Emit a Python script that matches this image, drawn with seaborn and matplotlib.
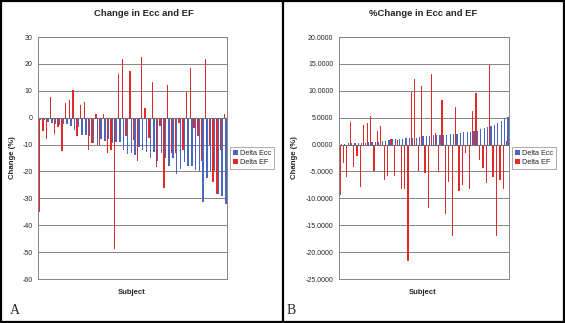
import numpy as np
import pandas as pd
import matplotlib
matplotlib.use("Agg")
import matplotlib.pyplot as plt
import matplotlib.patches as mpatches
from matplotlib.ticker import FormatStrFormatter
import seaborn as sns

# ---------------- data ----------------
subjects = [f"S{i+1}" for i in range(50)]

a_delta_ecc = [-0.8, -1.0, -1.5, -2.0, -2.2, -2.8, -2.5, -2.5, -3.0, -4.5,
               -3.5, -6.5, -6.5, -7.0, -9.5, -10.0, -8.0, -8.5, -8.0, -9.5,
               -9.0, -9.0, -12.0, -13.5, -13.0, -14.0, -11.0, -12.0, -12.8, -15.0,
               -12.8, -16.0, -13.0, -15.0, -18.0, -15.0, -21.0, -19.0, -16.5, -18.0,
               -18.0, -19.5, -20.0, -31.5, -22.5, -20.0, -20.0, -28.5, -29.0, -32.0]
a_delta_ef = [-35.0, -5.0, -8.0, 7.5, -6.0, -3.3, -12.3, 5.5, 6.5, 10.2,
              -7.0, 4.8, 6.0, -12.0, -9.5, 1.5, -10.0, 1.5, -13.2, -12.0,
              -49.0, 16.3, 21.7, -7.0, 17.5, -8.3, -16.2, 22.7, 3.7, -7.5,
              13.3, -18.5, -3.0, -26.3, 12.3, -13.0, -13.0, -2.0, -12.0, 9.6,
              18.6, -4.0, -7.0, -16.0, 22.0, -10.0, -24.0, -28.5, -12.0, 1.2]

b_delta_ecc = [0.10, 0.15, 0.20, 0.22, 0.25, 0.28, 0.30, 0.32, 0.40, 0.45,
               0.50, 0.55, 0.65, 0.70, 0.80, 0.95, 1.00, 1.05, 1.10, 1.15,
               1.20, 1.25, 1.30, 1.40, 1.50, 1.60, 1.65, 1.70, 1.72, 1.75,
               1.80, 1.85, 1.90, 1.95, 2.05, 2.15, 2.25, 2.30, 2.40, 2.55,
               2.60, 2.95, 3.05, 3.30, 3.50, 3.65, 4.05, 4.45, 4.85, 5.10]
b_delta_ef = [-9.3, -3.4, -6.0, 4.2, -4.1, -2.2, -7.8, 3.7, 4.1, 5.4,
              -5.0, 2.6, 3.4, -6.6, -5.8, 1.0, -5.8, 0.8, -8.2, -8.2,
              -21.7, 9.7, 12.1, -4.9, 10.8, -5.2, -11.8, 13.2, 2.1, -5.1,
              8.2, -13.0, -6.9, -17.0, 6.9, -8.6, -7.6, -1.6, -8.2, 6.3,
              9.5, -2.9, -4.4, -7.2, 14.8, -6.1, -17.0, -6.6, -8.2, 0.7]

series_names = ["Delta Ecc", "Delta EF"]
titles = ["Change in Ecc and EF", "%Change in Ecc and EF"]
panel_letters = ["A", "B"]
a_yticks = [30, 20, 10, 0, -10, -20, -30, -40, -50, -60]
b_yticks = [20, 15, 10, 5, 0, -5, -10, -15, -20, -25]

BLUE = "#4a66bd"
RED = "#de2c2c"

def long_df(ecc, ef):
    return pd.DataFrame({
        "Subject": subjects * 2,
        "value": list(ecc) + list(ef),
        "series": ["Delta Ecc"] * len(ecc) + ["Delta EF"] * len(ef),
    })

df_a = long_df(a_delta_ecc, a_delta_ef)
df_b = long_df(b_delta_ecc, b_delta_ef)

sns.set_theme(style="white")
plt.rcParams["font.family"] = ["Liberation Sans", "DejaVu Sans"]
plt.rcParams["axes.unicode_minus"] = False

fig = plt.figure(figsize=(5.65, 3.23), dpi=100)
W, H = 565, 323

def px_axes(x0, y0, x1, y1):
    return fig.add_axes([x0 / W, 1 - y1 / H, (x1 - x0) / W, (y1 - y0) / H])

ax_a = px_axes(38, 37, 227, 279)
ax_b = px_axes(339, 37, 509, 279)

configs = [
    (ax_a, df_a, a_yticks, False, 230, 144, 132, 13, 10),
    (ax_b, df_b, b_yticks, True, 512, 423, 423, 295, 287),
]

for i, (ax, df, yt, fmt4, leg_x, title_x, subj_x, ylab_x, let_x) in enumerate(configs):
    sns.barplot(data=df, x="Subject", y="value", hue="series",
                hue_order=["Delta EF", "Delta Ecc"],
                palette={"Delta Ecc": BLUE, "Delta EF": RED},
                width=0.75, saturation=1, errorbar=None, linewidth=0,
                legend=False, ax=ax)
    ax.set_ylim(min(yt), max(yt))
    ax.set_yticks(yt)
    if fmt4:
        ax.yaxis.set_major_formatter(FormatStrFormatter("%.4f"))
    ax.set_xlim(-0.5, len(subjects) - 0.5)
    ax.yaxis.grid(True, color="#858585", lw=0.7)
    ax.set_axisbelow(True)
    ax.set_xticks([])
    ax.set_xlabel("")
    ax.set_ylabel("")
    for s in ["left", "right", "top", "bottom"]:
        ax.spines[s].set_color("#858585")
        ax.spines[s].set_linewidth(0.7)
    ax.axhline(0, color="#707070", lw=0.8, zorder=1)
    ax.tick_params(axis="y", labelsize=5, length=2, width=0.6, color="#858585", pad=2)

    fig.text(title_x / W, 1 - 14 / H, titles[i], ha="center", va="center",
             fontsize=6.8, fontweight="bold")
    fig.text(subj_x / W, 1 - 293 / H, "Subject", ha="center", va="center",
             fontsize=5.5, fontweight="bold")
    fig.text(ylab_x / W, 1 - 158 / H, "Change (%)", ha="center", va="center",
             rotation=90, fontsize=5.6, fontweight="bold")
    fig.text(let_x / W, 1 - 314 / H, panel_letters[i], ha="left", va="baseline",
             fontsize=10, family="Liberation Serif")

    handles = [mpatches.Patch(facecolor=BLUE, edgecolor="none"),
               mpatches.Patch(facecolor=RED, edgecolor="none")]
    leg = fig.legend(handles, series_names, loc="center left",
                     bbox_to_anchor=(leg_x / W, 1 - 158 / H),
                     fontsize=5.3, frameon=True, fancybox=False,
                     handlelength=0.7, handleheight=0.7, handletextpad=0.3,
                     borderpad=0.35, labelspacing=0.35, borderaxespad=0)
    leg.get_frame().set_edgecolor("#858585")
    leg.get_frame().set_linewidth(0.6)

# outer frame and divider
fig.add_artist(mpatches.Rectangle((0.002, 0.003), 0.996, 0.994, transform=fig.transFigure,
                                  fill=False, edgecolor="black", lw=1.6))
fig.add_artist(plt.Line2D([283 / W, 283 / W], [0, 1], transform=fig.transFigure,
                          color="black", lw=1.6))

fig.savefig("out.png", dpi=100)
